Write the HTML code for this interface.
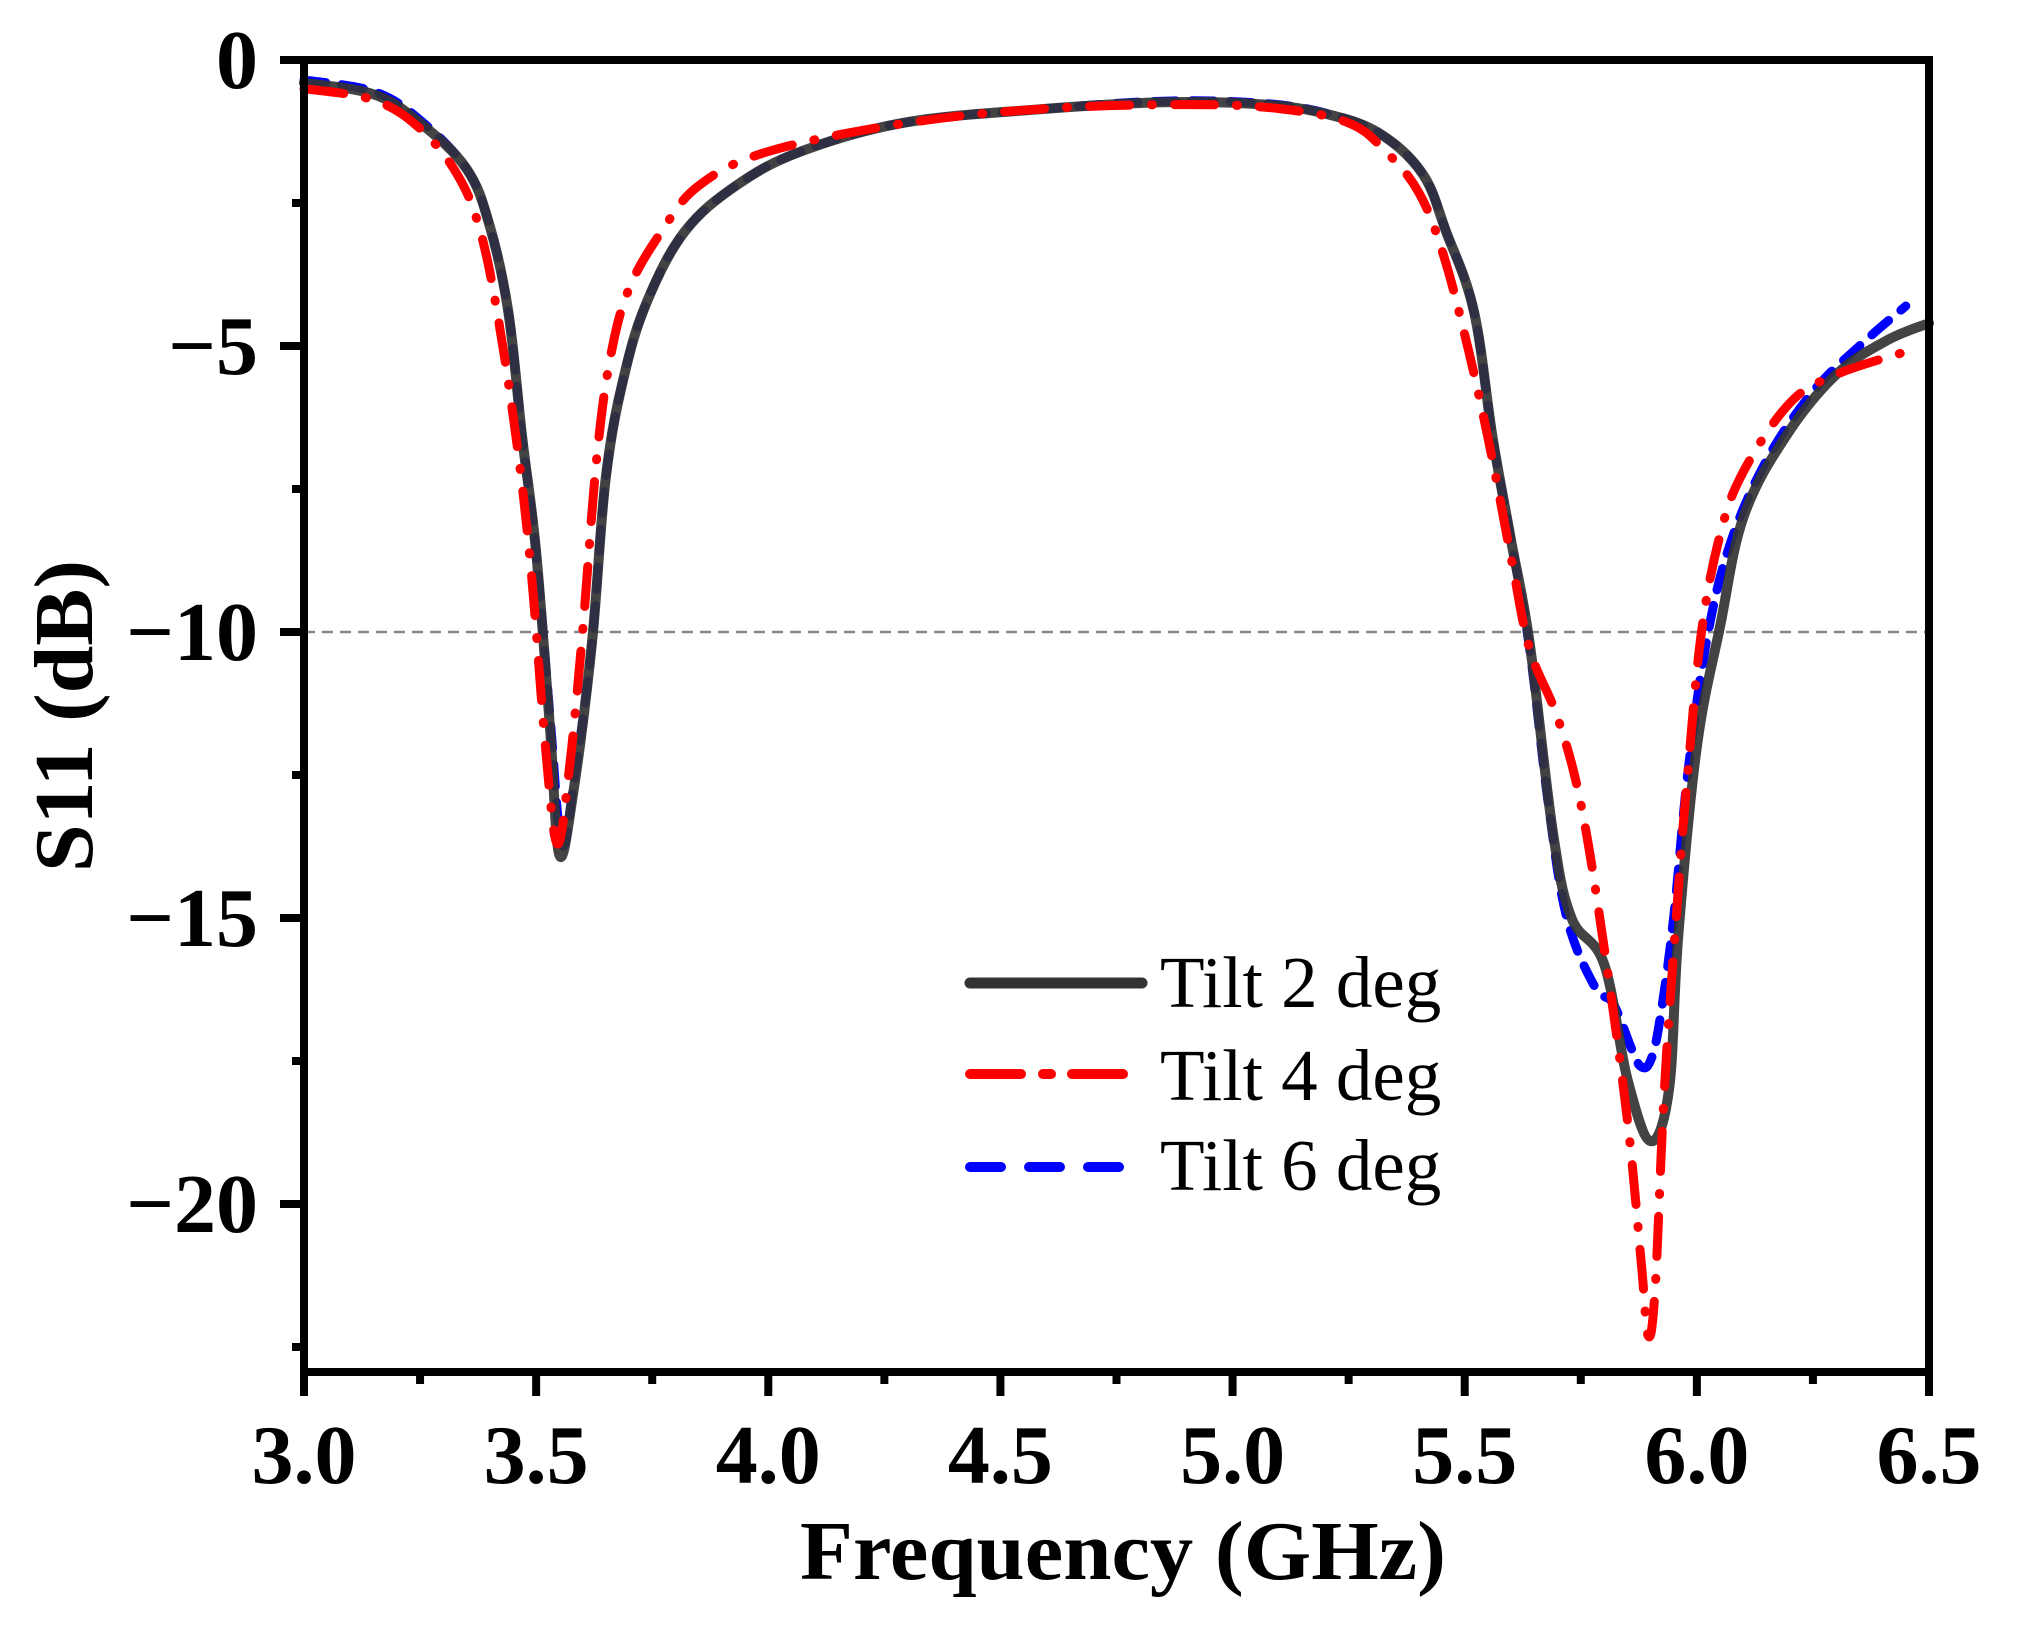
<!DOCTYPE html>
<html><head><meta charset="utf-8"><style>
html,body{margin:0;padding:0;background:#fff;}
svg{display:block;}
text{font-family:"Liberation Serif",serif;}
</style></head><body>
<svg id="chart" width="2029" height="1626" viewBox="0 0 2029 1626" xmlns="http://www.w3.org/2000/svg">
<g id="grid"></g><g id="series"></g><g id="axes"></g><g id="legend"></g>
</svg>
<script>
const xTicks = [3.0,3.5,4.0,4.5,5.0,5.5,6.0,6.5];
const xTickLabels = ["3.0","3.5","4.0","4.5","5.0","5.5","6.0","6.5"];
const yTicks = [0,-5,-10,-15,-20];
const yTickLabels = ["0","\u22125","\u221210","\u221215","\u221220"];
const seriesNames = ["Tilt 2 deg","Tilt 4 deg","Tilt 6 deg"];
const freq2 = [3.0,3.15,3.25,3.35,3.40,3.44,3.47,3.50,3.53,3.55,3.58,3.62,3.65,3.69,3.74,3.82,3.93,4.07,4.29,4.57,4.85,5.07,5.21,5.32,5.41,5.46,5.52,5.56,5.60,5.64,5.69,5.73,5.80,5.85,5.90,5.94,5.96,6.00,6.05,6.10,6.19,6.30,6.41,6.50];
const s11_2 = [-0.4,-0.6,-1.1,-1.9,-2.9,-4.4,-6.6,-8.6,-11.7,-13.9,-12.8,-10.2,-7.3,-5.5,-4.2,-3.0,-2.2,-1.6,-1.1,-0.87,-0.74,-0.78,-0.96,-1.3,-2.0,-3.0,-4.4,-6.6,-8.4,-10.2,-13.5,-15.0,-15.8,-17.8,-18.9,-18.0,-15.3,-12.0,-9.9,-8.0,-6.6,-5.5,-4.9,-4.6];
const freq4 = [3.0,3.15,3.25,3.33,3.38,3.42,3.46,3.49,3.52,3.545,3.57,3.60,3.63,3.66,3.70,3.77,3.85,4.0,4.3,4.6,4.9,5.1,5.25,5.33,5.40,5.45,5.50,5.55,5.60,5.64,5.70,5.75,5.80,5.85,5.88,5.895,5.91,5.93,5.96,5.98,6.01,6.05,6.10,6.2,6.3,6.45];
const s11_4 = [-0.5,-0.7,-1.2,-2.0,-3.0,-4.6,-6.8,-9.0,-12.0,-13.7,-12.5,-10.0,-7.0,-5.2,-4.0,-3.0,-2.2,-1.6,-1.1,-0.85,-0.78,-0.85,-1.1,-1.6,-2.3,-3.3,-4.8,-6.6,-8.7,-10.3,-11.5,-13.0,-15.5,-18.5,-21.0,-22.3,-21.5,-18.0,-14.5,-12.5,-10.0,-8.3,-7.2,-6.0,-5.5,-5.1];
const freq6 = [3.0,3.15,3.25,3.35,3.40,3.44,3.47,3.50,3.53,3.555,3.58,3.62,3.65,3.69,3.74,3.82,3.93,4.07,4.29,4.57,4.85,5.07,5.21,5.32,5.41,5.46,5.52,5.56,5.60,5.64,5.68,5.72,5.78,5.82,5.86,5.88,5.90,5.92,5.95,5.98,6.02,6.07,6.15,6.25,6.35,6.45];
const s11_6 = [-0.35,-0.55,-1.05,-1.9,-2.9,-4.4,-6.6,-8.6,-11.5,-13.7,-12.7,-10.2,-7.3,-5.5,-4.2,-3.0,-2.2,-1.6,-1.1,-0.87,-0.72,-0.76,-0.95,-1.3,-2.0,-3.0,-4.4,-6.6,-8.4,-10.3,-13.0,-15.0,-16.2,-16.5,-17.3,-17.6,-17.5,-16.8,-15.0,-12.5,-10.2,-8.5,-7.0,-5.8,-5.0,-4.3];

const NS="http://www.w3.org/2000/svg";
const X0=304,X1=1929,Y0=60,YB=1372;
const xMin=3.0,xMax=6.5,yMax=0,yPer=57.2;
function sx(v){return X0+(v-xMin)/(xMax-xMin)*(X1-X0);}
function sy(v){return Y0+(yMax-v)*yPer;}
function mk(tag,attrs,parent){const e=document.createElementNS(NS,tag);for(const k in attrs)e.setAttribute(k,attrs[k]);parent.appendChild(e);return e;}
function smooth(pts){
 let d='M'+pts[0][0].toFixed(1)+' '+pts[0][1].toFixed(1);
 const t=0.35;
 for(let i=0;i<pts.length-1;i++){
  const p0=pts[i-1]||pts[i],p1=pts[i],p2=pts[i+1],p3=pts[i+2]||p2;
  let c1x=p1[0]+(p2[0]-p0[0])*t/2,c1y=p1[1]+(p2[1]-p0[1])*t/2;
  let c2x=p2[0]-(p3[0]-p1[0])*t/2,c2y=p2[1]-(p3[1]-p1[1])*t/2;
  d+=' C'+c1x.toFixed(1)+' '+c1y.toFixed(1)+' '+c2x.toFixed(1)+' '+c2y.toFixed(1)+' '+p2[0].toFixed(1)+' '+p2[1].toFixed(1);
 }
 return d;
}
const grid=document.getElementById('grid'),ser=document.getElementById('series'),axes=document.getElementById('axes'),leg=document.getElementById('legend');

const ref=mk('line',{x1:X0,x2:X1,y1:sy(-10),y2:sy(-10),stroke:'#888','stroke-width':2.5,'stroke-dasharray':'11 7'},grid);



const styles=[
 {stroke:'#333','stroke-width':10,'stroke-dasharray':'none'},
 {stroke:'#ff0000','stroke-width':9,'stroke-dasharray':'40 22 1 22'},
 {stroke:'#0000ff','stroke-width':9,'stroke-dasharray':'22 16'}];
const data=[[freq2,s11_2],[freq4,s11_4],[freq6,s11_6]];
const snames=['tilt-2-deg-line','tilt-4-deg-line','tilt-6-deg-line'];
const order=[2,0,1];
order.forEach(i=>{
 const [fx,fy]=data[i];
 const pts=fx.map((f,j)=>[sx(f),sy(fy[j])]);
 const p=mk('path',Object.assign({d:smooth(pts),fill:'none','stroke-linejoin':'round','stroke-linecap':'round'},styles[i]),ser);
 if(i===0)p.setAttribute('stroke-opacity','0.92');
 
 
});

const frame=mk('rect',{x:X0,y:Y0,width:X1-X0,height:YB-Y0,fill:'none',stroke:'#000','stroke-width':8},axes);


for(let v=3.0;v<=6.5001;v+=0.25){
 const major=Math.abs(v*2-Math.round(v*2))<1e-6;
 const t=mk('line',{x1:sx(v),x2:sx(v),y1:YB,y2:YB+(major?24:12),stroke:'#000','stroke-width':8},axes);
 
 
}
for(let v=0;v>=-22.5001;v-=2.5){
 const major=Math.abs(v/5-Math.round(v/5))<1e-6;
 const t=mk('line',{x1:X0,x2:X0-(major?24:12),y1:sy(v),y2:sy(v),stroke:'#000','stroke-width':8},axes);
 
 
}
xTicks.forEach((v,i)=>{
 const t=mk('text',{x:sx(v),y:1483,'text-anchor':'middle','font-size':84,'font-weight':'bold'},axes);
 t.textContent=xTickLabels[i];
 
 
});
yTicks.forEach((v,i)=>{
 const t=mk('text',{x:258,y:sy(v)+28,'text-anchor':'end','font-size':84,'font-weight':'bold'},axes);
 t.textContent=yTickLabels[i];
 
 
});
const xt=mk('text',{x:1123,y:1579,'text-anchor':'middle','font-size':84,'font-weight':'bold',textLength:646,lengthAdjust:'spacingAndGlyphs'},axes);
xt.textContent='Frequency (GHz)';


const yt=mk('text',{x:0,y:0,'text-anchor':'middle','font-size':84,'font-weight':'bold',transform:'translate(92,716) rotate(-90)',textLength:312,lengthAdjust:'spacingAndGlyphs'},axes);
yt.textContent='S11 (dB)';



const legY=[983,1074,1167],legT=[1007,1100,1190];
const legDash=['none','51 22 8 21','31 28'];
const lnames=['legend-entry-tilt-2','legend-entry-tilt-4','legend-entry-tilt-6'];
seriesNames.forEach((n,i)=>{
 const g=mk('g',{},leg);
 
 
 mk('line',{x1:970,x2:1142,y1:legY[i],y2:legY[i],stroke:styles[i].stroke,'stroke-width':i==0?11:10,'stroke-dasharray':legDash[i],'stroke-linecap':'round'},g);
 const t=mk('text',{x:1160,y:legT[i],'font-size':73},g);
 t.textContent=n;
});
</script>
</body></html>
